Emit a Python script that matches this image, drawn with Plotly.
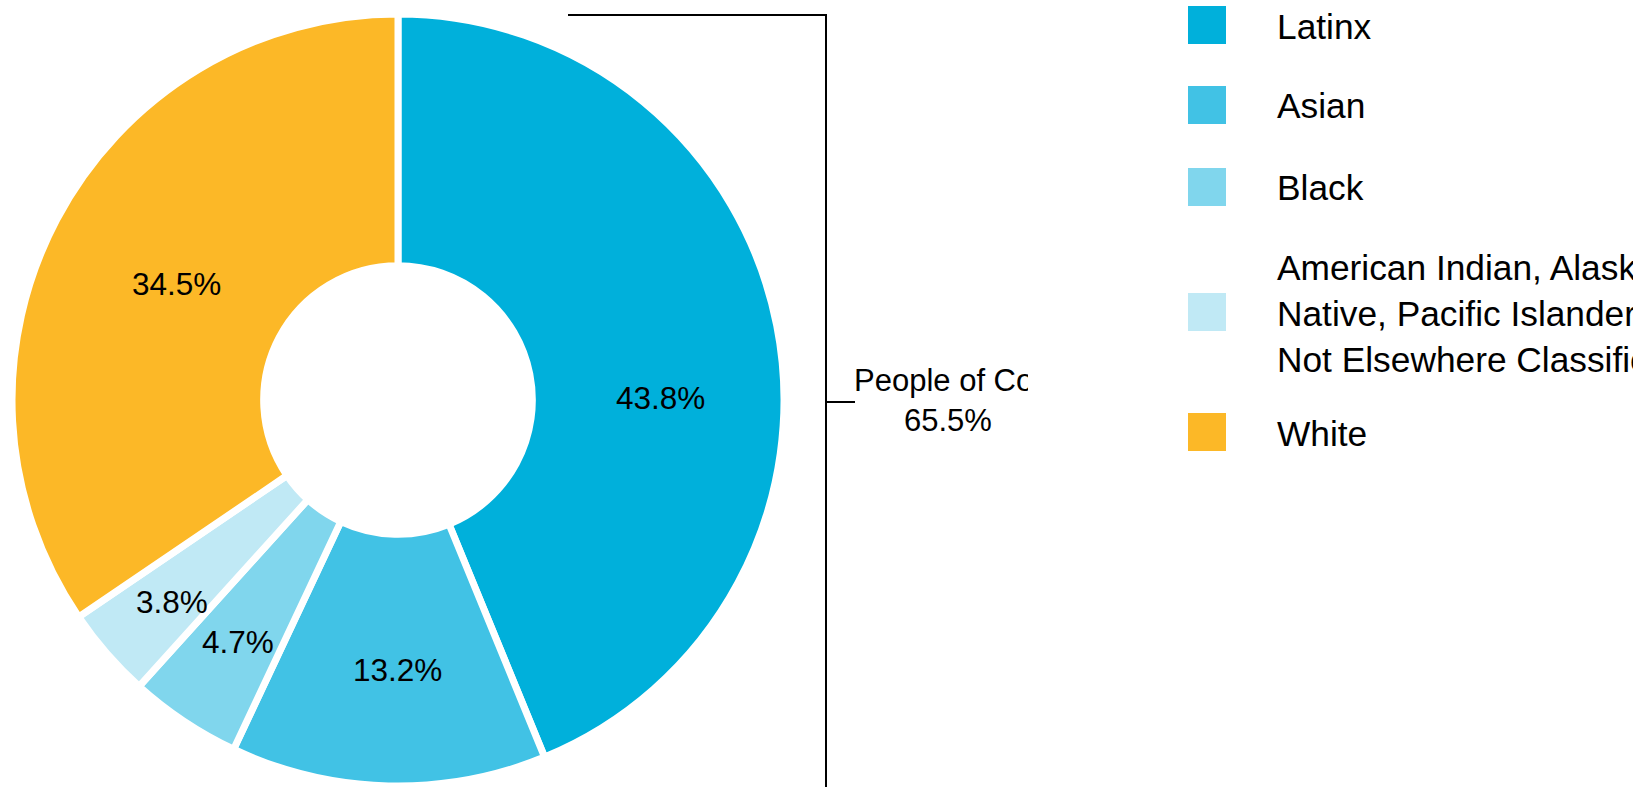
import plotly.graph_objects as go

# Share of people by race/ethnicity
categories = ["Latinx", "Asian", "Black",
              "American Indian, Alaska Native, Pacific Islander, Not Elsewhere Classified",
              "White"]
legend_labels = ["Latinx", "Asian", "Black",
                 "American Indian, Alaska<br>Native, Pacific Islander,<br>Not Elsewhere Classified",
                 "White"]
values = [43.8, 13.2, 4.7, 3.8, 34.5]
colors = ["#00B0DB", "#41C2E5", "#80D6ED", "#C0E9F5", "#FCB827"]
group_name = "People of Color"
group_members = ["Latinx", "Asian", "Black",
                 "American Indian, Alaska Native, Pacific Islander, Not Elsewhere Classified"]

W, H = 1633, 787
FONT = "Arial, Liberation Sans, sans-serif"


def px(x):
    return x / W


def py(y):
    return 1 - y / H


# donut geometry (pixels)
cx, cy, R = 398, 400, 386

fig = go.Figure()
fig.add_trace(go.Pie(
    labels=categories,
    values=values,
    sort=False,
    direction="clockwise",
    rotation=0,
    hole=0.348,
    marker=dict(colors=colors, line=dict(color="white", width=7)),
    textinfo="none",
    hoverinfo="label+percent",
    showlegend=False,
    domain=dict(x=[px(cx - R), px(cx + R)], y=[py(cy + R), py(cy - R)]),
))

annotations = []

# percentage labels inside the slices
label_pos = [(660, 398), (397, 670), (238, 642), (172, 602), (176, 284)]
for v, (lx, ly) in zip(values, label_pos):
    annotations.append(dict(
        x=px(lx), y=py(ly), xref="paper", yref="paper",
        text=f"{v:.1f}%", showarrow=False,
        xanchor="center", yanchor="middle",
        font=dict(family=FONT, size=31.5, color="black"),
    ))

# bracket grouping the people-of-color slices
shapes = [
    dict(type="path", xref="paper", yref="paper",
         path=f"M {px(568)} {py(15)} L {px(826)} {py(15)} L {px(826)} {py(800)}",
         line=dict(color="black", width=2)),
    dict(type="line", xref="paper", yref="paper",
         x0=px(826), x1=px(855), y0=py(402), y1=py(402),
         line=dict(color="black", width=2)),
]

group_total = sum(v for c, v in zip(categories, values) if c in group_members)
annotations.append(dict(
    x=px(852), y=py(380), xref="paper", yref="paper",
    text=group_name, showarrow=False, width=174, align="left",
    xanchor="left", yanchor="middle",
    font=dict(family=FONT, size=31, color="black"),
))
annotations.append(dict(
    x=px(948), y=py(421), xref="paper", yref="paper",
    text=f"{group_total:.1f}%", showarrow=False,
    xanchor="center", yanchor="middle",
    font=dict(family=FONT, size=31, color="black"),
))

# legend: colour swatches and names
legend_y = [25, 105, 187, 312, 432]
for lab, col, ly in zip(legend_labels, colors, legend_y):
    shapes.append(dict(type="rect", xref="paper", yref="paper",
                       x0=px(1188), x1=px(1226), y0=py(ly - 19), y1=py(ly + 19),
                       fillcolor=col, line=dict(width=0)))
    annotations.append(dict(
        x=px(1275), y=py(ly + 1), xref="paper", yref="paper",
        text=lab, showarrow=False, align="left",
        xanchor="left", yanchor="middle",
        font=dict(family=FONT, size=35.3, color="black"),
    ))

fig.update_layout(
    width=W, height=H,
    margin=dict(l=0, r=0, t=0, b=0),
    paper_bgcolor="white",
    plot_bgcolor="white",
    shapes=shapes,
    annotations=annotations,
)

fig.write_html("out.html")
